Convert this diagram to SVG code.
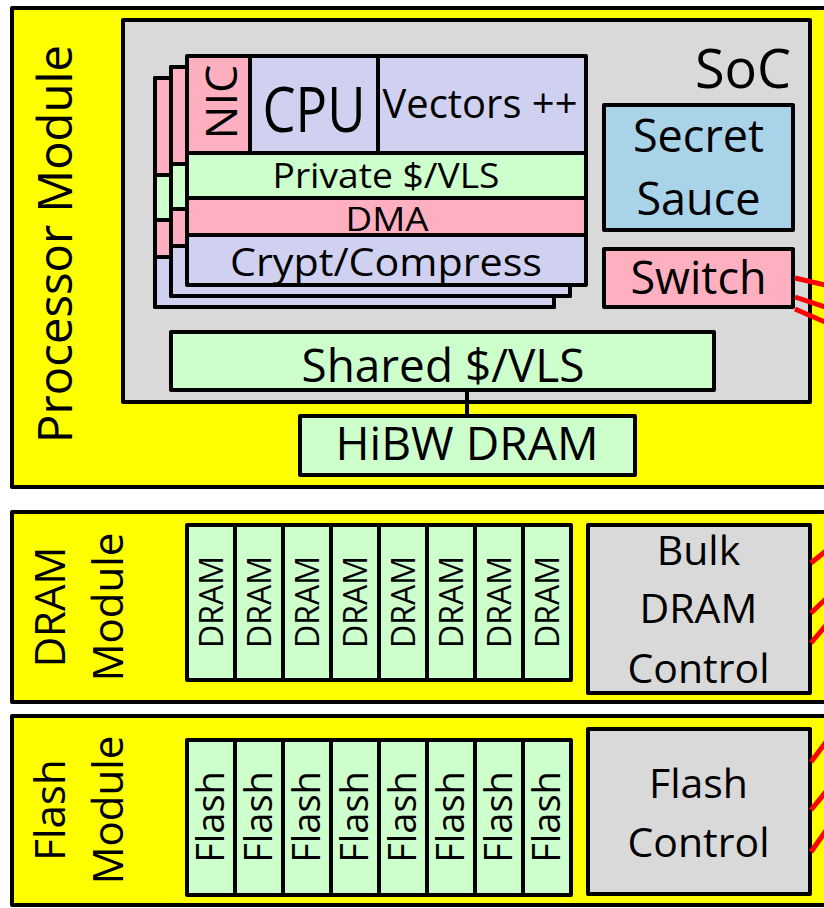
<svg xmlns="http://www.w3.org/2000/svg" width="824" height="908" viewBox="0 0 824 908">
<style>
rect{stroke:#000;stroke-width:4;stroke-linejoin:round}
.mod{fill:#ffff00}
.gray{fill:#d9d9d9}
.green{fill:#ccffcc}
.pink{fill:#ffb0c0}
.lav{fill:#d0d0f0}
.blue{fill:#a9d3e8}
text{font-family:"Open Sans","Noto Sans",sans-serif;fill:#000;text-anchor:middle}
.red{stroke:#ff0000;stroke-width:5;fill:none}
.wire{stroke:#000;stroke-width:4;fill:none}
</style>
<rect x="0" y="0" width="824" height="908" style="fill:#fff;stroke:none"/>

<g id="processor-module">
<rect class="mod" x="12" y="8" width="830" height="479"/>
<text transform="translate(72,244) rotate(-90)" font-size="47" textLength="398" lengthAdjust="spacingAndGlyphs">Processor Module</text>
</g>

<g id="soc">
<rect class="gray" x="123" y="20" width="687" height="382"/>
<text x="791" y="88" font-size="54" style="text-anchor:end">SoC</text>
</g>

<g id="core-back">
<rect class="lav" x="155" y="78" width="399" height="229"/>
<rect class="pink" x="155" y="78" width="63" height="97"/>
<rect class="lav" x="218" y="78" width="128" height="97"/>
<rect class="lav" x="346" y="78" width="208" height="97"/>
<rect class="green" x="155" y="175" width="399" height="45"/>
<rect class="pink" x="155" y="220" width="399" height="37"/>
<rect class="lav" x="155" y="257" width="399" height="50"/>
</g>

<g id="core-middle">
<rect class="lav" x="171" y="67" width="399" height="229"/>
<rect class="pink" x="171" y="67" width="63" height="97"/>
<rect class="lav" x="234" y="67" width="128" height="97"/>
<rect class="lav" x="362" y="67" width="208" height="97"/>
<rect class="green" x="171" y="164" width="399" height="45"/>
<rect class="pink" x="171" y="209" width="399" height="37"/>
<rect class="lav" x="171" y="246" width="399" height="50"/>
</g>

<g id="core-front">
<g id="nic">
<rect class="pink" x="187" y="56" width="63" height="97"/>
<text transform="translate(237,102) rotate(-90)" font-size="44" textLength="75" lengthAdjust="spacingAndGlyphs">NIC</text>
</g>
<g id="cpu">
<rect class="lav" x="250" y="56" width="128" height="97"/>
<text x="314" y="132" font-size="63" textLength="103" lengthAdjust="spacingAndGlyphs">CPU</text>
</g>
<g id="vectors">
<rect class="lav" x="378" y="56" width="208" height="97"/>
<text x="480" y="118" font-size="40" textLength="195" lengthAdjust="spacingAndGlyphs">Vectors ++</text>
</g>
<g id="private-cache">
<rect class="green" x="187" y="153" width="399" height="45"/>
<text x="386" y="188" font-size="35" textLength="227" lengthAdjust="spacingAndGlyphs">Private $/VLS</text>
</g>
<g id="dma">
<rect class="pink" x="187" y="198" width="399" height="37"/>
<text x="387" y="231" font-size="33" textLength="83" lengthAdjust="spacingAndGlyphs">DMA</text>
</g>
<g id="crypt">
<rect class="lav" x="187" y="235" width="399" height="50"/>
<text x="386" y="276" font-size="39" textLength="312" lengthAdjust="spacingAndGlyphs">Crypt/Compress</text>
</g>
</g>

<g id="secret-sauce">
<rect class="blue" x="604" y="105" width="189" height="125"/>
<text x="698.5" y="152" font-size="45">Secret</text>
<text x="698.5" y="215" font-size="45">Sauce</text>
</g>

<g id="switch">
<rect class="pink" x="604" y="249" width="189" height="58"/>
<text x="698.5" y="294" font-size="45">Switch</text>
</g>

<g id="shared-cache">
<rect class="green" x="171" y="332" width="543" height="58"/>
<text x="443" y="382" font-size="46" textLength="283" lengthAdjust="spacingAndGlyphs">Shared $/VLS</text>
</g>

<g id="hibw-dram">
<rect class="green" x="300" y="416" width="335" height="59"/>
<text x="467" y="460" font-size="46" textLength="263" lengthAdjust="spacingAndGlyphs">HiBW DRAM</text>
</g>

<g id="dram-module">
<rect class="mod" x="12" y="512" width="830" height="190"/>
<text transform="translate(65,607) rotate(-90)" font-size="42">DRAM</text>
<text transform="translate(123,607) rotate(-90)" font-size="42">Module</text>
</g>

<g id="dram-chips">
<rect class="green" x="187" y="525" width="48" height="155"/>
<rect class="green" x="235" y="525" width="48" height="155"/>
<rect class="green" x="283" y="525" width="48" height="155"/>
<rect class="green" x="331" y="525" width="48" height="155"/>
<rect class="green" x="379" y="525" width="48" height="155"/>
<rect class="green" x="427" y="525" width="48" height="155"/>
<rect class="green" x="475" y="525" width="48" height="155"/>
<rect class="green" x="523" y="525" width="48" height="155"/>
<text transform="translate(222.5,602) rotate(-90)" font-size="32">DRAM</text>
<text transform="translate(270.5,602) rotate(-90)" font-size="32">DRAM</text>
<text transform="translate(318.5,602) rotate(-90)" font-size="32">DRAM</text>
<text transform="translate(366.5,602) rotate(-90)" font-size="32">DRAM</text>
<text transform="translate(414.5,602) rotate(-90)" font-size="32">DRAM</text>
<text transform="translate(462.5,602) rotate(-90)" font-size="32">DRAM</text>
<text transform="translate(510.5,602) rotate(-90)" font-size="32">DRAM</text>
<text transform="translate(558.5,602) rotate(-90)" font-size="32">DRAM</text>
</g>

<g id="bulk-dram-control">
<rect class="gray" x="588" y="525" width="222" height="168"/>
<text x="698.5" y="565" font-size="41">Bulk</text>
<text x="698.5" y="623" font-size="41">DRAM</text>
<text x="698.5" y="683" font-size="41">Control</text>
</g>

<g id="flash-module">
<rect class="mod" x="12" y="716" width="830" height="189"/>
<text transform="translate(65,810) rotate(-90)" font-size="42">Flash</text>
<text transform="translate(123,810) rotate(-90)" font-size="42">Module</text>
</g>

<g id="flash-chips">
<rect class="green" x="187" y="740" width="48" height="155"/>
<rect class="green" x="235" y="740" width="48" height="155"/>
<rect class="green" x="283" y="740" width="48" height="155"/>
<rect class="green" x="331" y="740" width="48" height="155"/>
<rect class="green" x="379" y="740" width="48" height="155"/>
<rect class="green" x="427" y="740" width="48" height="155"/>
<rect class="green" x="475" y="740" width="48" height="155"/>
<rect class="green" x="523" y="740" width="48" height="155"/>
<text transform="translate(224,817) rotate(-90)" font-size="38">Flash</text>
<text transform="translate(272,817) rotate(-90)" font-size="38">Flash</text>
<text transform="translate(320,817) rotate(-90)" font-size="38">Flash</text>
<text transform="translate(368,817) rotate(-90)" font-size="38">Flash</text>
<text transform="translate(416,817) rotate(-90)" font-size="38">Flash</text>
<text transform="translate(464,817) rotate(-90)" font-size="38">Flash</text>
<text transform="translate(512,817) rotate(-90)" font-size="38">Flash</text>
<text transform="translate(560,817) rotate(-90)" font-size="38">Flash</text>
</g>

<g id="flash-control">
<rect class="gray" x="588" y="729" width="222" height="165"/>
<text x="698.5" y="798" font-size="41">Flash</text>
<text x="698.5" y="857" font-size="41">Control</text>
</g>

<g id="connectors">
<line class="wire" x1="467" y1="390" x2="467" y2="416"/>
<line class="red" x1="795" y1="278" x2="834" y2="287"/>
<line class="red" x1="795" y1="297" x2="834" y2="310"/>
<line class="red" x1="795" y1="309" x2="834" y2="326"/>
<line class="red" x1="811" y1="563" x2="832" y2="546"/>
<line class="red" x1="811" y1="613" x2="832" y2="593"/>
<line class="red" x1="811" y1="643" x2="832" y2="618"/>
<line class="red" x1="811" y1="762" x2="832" y2="734"/>
<line class="red" x1="811" y1="810" x2="832" y2="784"/>
<line class="red" x1="811" y1="852" x2="832" y2="822"/>
</g>
</svg>
